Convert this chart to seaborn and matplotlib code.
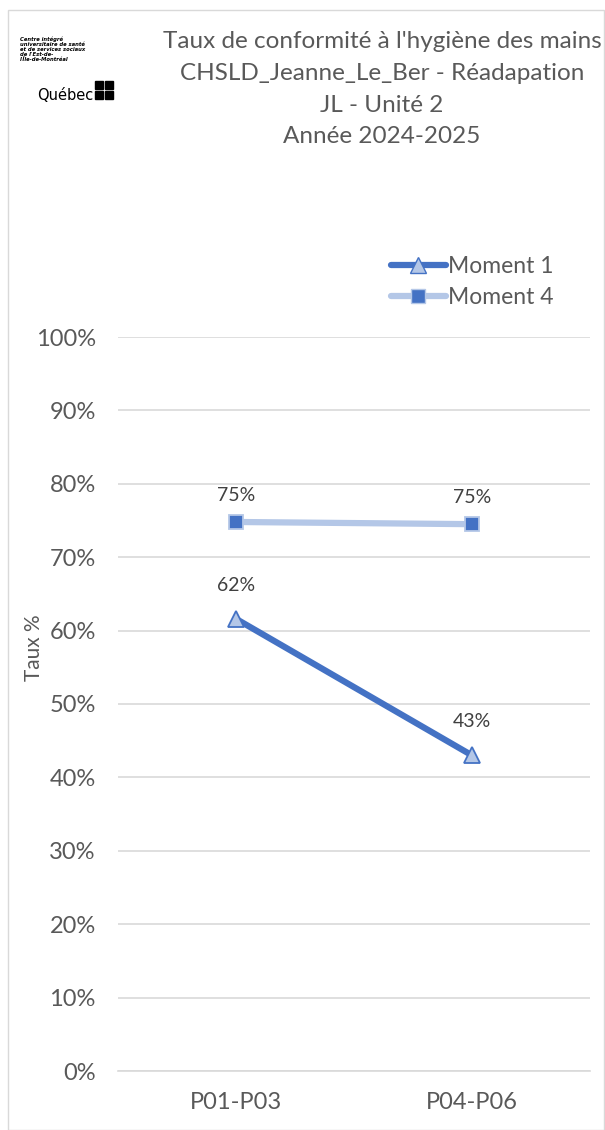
import matplotlib
matplotlib.use("Agg")
import matplotlib.pyplot as plt
import matplotlib.patches as mpatches
import seaborn as sns
import pandas as pd
from matplotlib.ticker import PercentFormatter
from matplotlib.lines import Line2D

# data
periods = ["P01-P03", "P04-P06"]
moment1 = [61.6, 43.0]
moment4 = [74.8, 74.5]
labels1 = ["62%", "43%"]
labels4 = ["75%", "75%"]
y_ticks = [0, 10, 20, 30, 40, 50, 60, 70, 80, 90, 100]

df = pd.DataFrame({
    "periode": periods * 2,
    "taux": moment1 + moment4,
    "serie": ["Moment 1"] * 2 + ["Moment 4"] * 2,
})

sns.set_theme(style="white")
plt.rcParams["font.family"] = ["Lato", "DejaVu Sans"]

text_col = "#595959"
dark_blue = "#4472C4"
light_blue = "#B4C7E7"

fig = plt.figure(figsize=(6.05, 11.3), dpi=100)
ax = fig.add_axes([118 / 605, 1 - 1071 / 1130, (590 - 118) / 605, (1071 - 337) / 1130])

sns.lineplot(data=df, x="periode", y="taux", hue="serie", style="serie",
             palette={"Moment 1": dark_blue, "Moment 4": light_blue},
             markers={"Moment 1": "^", "Moment 4": "s"}, dashes=False,
             linewidth=4.5, markersize=11, legend=False, ax=ax, zorder=3)

# marker colours like Excel
lines = ax.get_lines()
lines[0].set_markerfacecolor(light_blue)
lines[0].set_markeredgecolor(dark_blue)
lines[0].set_markeredgewidth(1.3)
lines[1].set_markerfacecolor(dark_blue)
lines[1].set_markeredgecolor(light_blue)
lines[1].set_markeredgewidth(1.3)
lines[1].set_markersize(10)

for i, p in enumerate(periods):
    ax.annotate(labels1[i], (i, moment1[i]), xytext=(0, 18), textcoords="offset points",
                ha="center", va="bottom", fontsize=14, color="#404040")
    ax.annotate(labels4[i], (i, moment4[i]), xytext=(0, 13), textcoords="offset points",
                ha="center", va="bottom", fontsize=14, color="#404040")

ax.set_xlim(-0.5, 1.5)
ax.set_ylim(0, 100)
ax.set_yticks(y_ticks)
ax.yaxis.set_major_formatter(PercentFormatter(decimals=0))
ax.grid(axis="y", color="#D9D9D9", linewidth=1.2)
ax.set_axisbelow(True)
for s in ["top", "right", "left"]:
    ax.spines[s].set_visible(False)
ax.spines["bottom"].set_color("#D9D9D9")
ax.spines["bottom"].set_linewidth(1.2)
ax.tick_params(axis="both", labelsize=17, colors=text_col, length=0)
ax.tick_params(axis="y", pad=16)
ax.tick_params(axis="x", pad=15)
ax.set_xlabel("")
ax.set_ylabel("Taux %", fontsize=15, color=text_col)
ax.yaxis.set_label_coords(-74 / 472, (1071 - 648) / 734)

# legend
handles = [
    Line2D([], [], color=dark_blue, lw=4.5, marker="^", markersize=11,
           markerfacecolor=light_blue, markeredgecolor=dark_blue),
    Line2D([], [], color=light_blue, lw=4.5, marker="s", markersize=10,
           markerfacecolor=dark_blue, markeredgecolor=light_blue),
]
fig.legend(handles, ["Moment 1", "Moment 4"], loc="center left",
           bbox_to_anchor=(370 / 605, 1 - 282 / 1130), frameon=False,
           fontsize=16.5, labelcolor=text_col, handlelength=2.4, handletextpad=0.1,
           labelspacing=0.42)

# title
title_lines = ["Taux de conformité à l'hygiène des mains",
               "CHSLD_Jeanne_Le_Ber - Réadapation",
               "JL - Unité 2",
               "Année 2024-2025"]
for k, t in enumerate(title_lines):
    fig.text(382 / 605, 1 - (42 + 31.5 * k) / 1130, t, ha="center", va="center",
             fontsize=17.5, color=text_col)

# logo
fig.text(20 / 605, 1 - 36 / 1130,
         "Centre intégré\nuniversitaire de santé\net de services sociaux\nde l'Est-de-\nl'Île-de-Montréal",
         ha="left", va="top", fontsize=3.8, fontweight="bold", style="italic",
         color="black", linespacing=1.05, family="Liberation Sans Narrow")
fig.text(37 / 605, 1 - 95 / 1130, "Québec", ha="left", va="center",
         fontsize=10.5, color="black", family="Liberation Sans Narrow")
for dx in (0, 1):
    for dy in (0, 1):
        fig.patches.append(mpatches.Rectangle(
            ((95 + dx * 10) / 605, 1 - (89 + dy * 10) / 1130), 8 / 605, 8 / 1130,
            transform=fig.transFigure, color="black"))

# chart border
fig.patches.append(mpatches.Rectangle((8 / 605, 0), 596 / 605, 1 - 10 / 1130,
                                      transform=fig.transFigure, fill=False,
                                      edgecolor="#D9D9D9", linewidth=1))

fig.savefig("out.png", dpi=100)
